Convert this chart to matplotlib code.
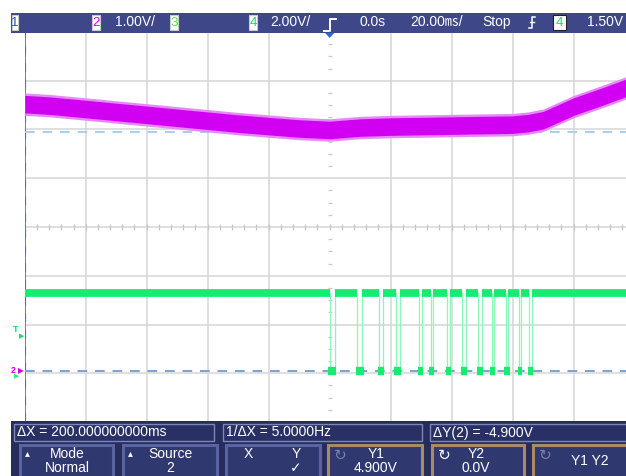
import matplotlib
matplotlib.use("Agg")
import matplotlib.pyplot as plt
from matplotlib.patches import Rectangle, Polygon

FONT = ["Liberation Sans", "DejaVu Sans", "Noto Sans CJK JP"]

# scope settings
TIME_DIV = 20.0      # ms/div
CH2_VDIV = 1.00      # V/div
CH4_VDIV = 2.00      # V/div
GND_DIV = -2.95      # ground reference of ch2 and ch4, in divisions from centre
TRIG_LEVEL = 1.50    # V, channel 4
CURSOR_X1 = -100.0   # ms
CURSOR_Y1 = 4.900    # V
CURSOR_Y2 = 0.0      # V

# channel 2 (magenta): centre of the noisy supply trace
ch2_t = [-100, -92, -80, -70, -60, -50, -40, -30, -20, -10, 0, 10,
         20, 30, 40, 50, 60, 65, 70, 80, 90, 97]
ch2_v = [5.47, 5.44, 5.37, 5.31, 5.25, 5.19, 5.13, 5.07, 5.02, 4.97, 4.94, 4.99,
         5.01, 5.02, 5.03, 5.04, 5.05, 5.08, 5.14, 5.42, 5.64, 5.80]
ch2_noise = 0.18     # half height of the noise band, V

# channel 4 (green): serial burst, low periods in ms
ch4_low_start = [0.0, 9.0, 16.2, 21.6, 29.3, 33.1, 38.6, 43.5, 48.7, 53.1, 57.7, 62.1, 65.3]
ch4_low_end = [1.7, 10.7, 17.5, 23.0, 30.3, 33.9, 39.4, 44.6, 49.8, 53.9, 58.6, 62.8, 66.4]
ch4_hi = 3.2
ch4_lo = 0.0

# screen geometry (pixels)
W, H = 626, 476
GX0, GDX = 24.7, 61.0
GY0, GDY = 32.0, 48.75

fig = plt.figure(figsize=(W / 100, H / 100), dpi=100)
fig.patch.set_facecolor("white")

t_min = -5 * TIME_DIV
t_max = t_min + (W - GX0) / GDX * TIME_DIV
ax = fig.add_axes([GX0 / W, 1 - (GY0 + 8 * GDY) / H, (W - GX0) / W, 8 * GDY / H])
ax.set_xlim(t_min, t_max)
ax.set_ylim(-4, 4)
ax.axis("off")

# graticule
grid_c = "#d6d6d6"
for k in range(-4, 6):
    if k != 0:
        ax.axvline(k * TIME_DIV, color=grid_c, lw=1.1, zorder=1)
for k in range(-3, 4):
    ax.axhline(k, color=grid_c, lw=1.1, zorder=1)
ax.axhline(-4, color="#c8c8c8", lw=1.2, zorder=1)
minor_t = [i * TIME_DIV / 5 for i in range(-25, 26)]
ax.vlines(minor_t, -0.06, 0.06, color="#c6c6c6", lw=0.9, zorder=1)
minor_y = [i / 4 for i in range(-16, 17) if i % 4]
ax.hlines(minor_y, -0.6, 0.6, color="#cacaca", lw=0.9, zorder=1)
ax.axvline(t_min, color="#6a6a6a", lw=1.2, zorder=2)

# channel scales
ax2 = ax.twinx()
ax2.set_ylim((-4 - GND_DIV) * CH2_VDIV, (4 - GND_DIV) * CH2_VDIV)
ax2.axis("off")
ax4 = ax.twinx()
ax4.set_ylim((-4 - GND_DIV) * CH4_VDIV, (4 - GND_DIV) * CH4_VDIV)
ax4.axis("off")

# cursors
ax2.axhline(CURSOR_Y1, color="#a9cdf3", lw=1.4, dashes=(5, 4), zorder=2)
ax2.axhline(CURSOR_Y2, color="#7aa2d8", lw=1.4, dashes=(5, 4), zorder=2)
ax.axvline(CURSOR_X1, color="#3d78d0", lw=1.6, dashes=(4, 3.5), zorder=3)

# channel 2 trace
lo = [v - ch2_noise for v in ch2_v]
hi = [v + ch2_noise for v in ch2_v]
lo2 = [v - ch2_noise - 0.05 for v in ch2_v]
hi2 = [v + ch2_noise + 0.05 for v in ch2_v]
ax2.fill_between(ch2_t, lo2, hi2, color="#e58af9", lw=0, zorder=3)
ax2.fill_between(ch2_t, lo, hi, color="#d200f2", lw=0, zorder=4)

# channel 4 trace
wt, wv = [t_min], [ch4_hi]
for a, b in zip(ch4_low_start, ch4_low_end):
    wt += [a, a, b, b]
    wv += [ch4_hi, ch4_lo, ch4_lo, ch4_hi]
wt.append(t_max)
wv.append(ch4_hi)
ax4.plot(wt, wv, color="#8af7bb", lw=0.9, zorder=4)
hi_start = [t_min] + ch4_low_end
hi_end = ch4_low_start + [t_max]
ax4.hlines([ch4_hi] * len(hi_start), hi_start, hi_end, color="#14ec72", lw=5.6, zorder=5)
ax4.hlines([ch4_lo] * len(ch4_low_start), [a - 0.4 for a in ch4_low_start],
           [b + 0.4 for b in ch4_low_end], color="#14ec72", lw=6.0, zorder=5)

# level markers left of the screen
ax4.annotate("T", xy=(0, TRIG_LEVEL), xycoords=("axes fraction", "data"),
             xytext=(-6.3, 3.5), textcoords="offset points", ha="center", va="center",
             color="#19d873", fontsize=6.5, fontweight="bold", family=FONT, annotation_clip=False)
ax4.annotate("\u25b6", xy=(0, TRIG_LEVEL), xycoords=("axes fraction", "data"),
             xytext=(-2.3, -1.2), textcoords="offset points", ha="center", va="center",
             color="#19d873", fontsize=5, annotation_clip=False)
ax4.annotate("\u25b6", xy=(0, ch4_lo), xycoords=("axes fraction", "data"),
             xytext=(-5.5, -3.5), textcoords="offset points", ha="center", va="center",
             color="#3de890", fontsize=5, annotation_clip=False)
ax2.annotate("2", xy=(0, CURSOR_Y2), xycoords=("axes fraction", "data"),
             xytext=(-8.2, 0.5), textcoords="offset points", ha="center", va="center",
             color="#d200f2", fontsize=6.5, fontweight="bold", family=FONT, annotation_clip=False)
ax2.annotate("\u25b6", xy=(0, CURSOR_Y2), xycoords=("axes fraction", "data"),
             xytext=(-2.6, 0.3), textcoords="offset points", ha="center", va="center",
             color="#d200f2", fontsize=5.5, annotation_clip=False)

# status bar and soft keys
ov = fig.add_axes([0, 0, 1, 1])
ov.set_xlim(0, W)
ov.set_ylim(H, 0)
ov.axis("off")

ov.add_patch(Rectangle((11, 13), W - 11, 20, fc="#3e4889", ec="none"))
tx = dict(color="white", fontsize=10, family=FONT, va="center")


def chan_box(x, w, label, color, edge="#c8c8c8"):
    ov.add_patch(Rectangle((x, 15), w, 15, fc="white", ec=edge, lw=0.8))
    ov.text(x + w / 2, 22.5, label, color=color, ha="center", va="center",
            fontsize=9.5, family=FONT)


chan_box(12, 6, "1", "#2c4fd8")
chan_box(92, 8, "2", "#d000f0")
ov.text(115, 22, "1.00V/", **tx)
chan_box(170, 8, "3", "#58e050")
chan_box(249, 8, "4", "#10e070")
ov.text(270, 22, "2.00V/", **tx)
ov.text(359, 22, "0.0s", **tx)
ov.text(410, 22, "20.00\u33b3/", **tx)
ov.text(482, 22, "Stop", **tx)
chan_box(553, 13, "4", "#10e070", edge="#202020")
ov.text(587, 22, "1.50V", **tx)

# trigger slope and trigger position icons
ov.plot([529, 532, 532, 535], [28, 28, 17, 17], color="white", lw=1.1)
ov.plot([530, 534], [22, 22], color="white", lw=1.0)
trig_x = GX0 + (0 - t_min) / TIME_DIV * GDX
ov.plot([trig_x - 6, trig_x, trig_x, trig_x + 6], [31, 31, 19, 19], color="white", lw=1.4)
ov.add_patch(Polygon([(trig_x - 4.5, 33), (trig_x + 4.5, 33), (trig_x, 38)],
                     closed=True, fc="#2a66d8", ec="none"))

# bottom panel
ov.add_patch(Rectangle((11, 421), W - 11, H - 421, fc="#262d5c", ec="none"))
for x0, x1 in [(14, 214), (223, 422), (430, W + 2)]:
    ov.add_patch(Rectangle((x0, 424), x1 - x0, 17, fc="#283066", ec="#7c86b8", lw=1))
ov.text(17, 432.5, "\u0394X = 200.000000000ms", **tx)
ov.text(226, 432.5, "1/\u0394X = 5.0000Hz", **tx)
ov.text(433, 432.5, "\u0394Y(2) = -4.900V", **tx)

keys = [(20, 113, "#5a64a0"), (123, 217, "#5a64a0"), (226, 320, "#5a64a0"),
        (328, 422, "#a88a68"), (432, 524, "#a88a68"), (533, W + 2, "#a88a68")]
for x0, x1, ec in keys:
    ov.add_patch(Rectangle((x0, 445), x1 - x0, 34, fc="#303870", ec=ec, lw=2.2))

ov.text(27, 453, "\u25b4", color="white", fontsize=7, ha="center", va="center")
ov.text(67, 454, "Mode", ha="center", **tx)
ov.text(67, 468.5, "Normal", ha="center", **tx)
ov.text(130, 453, "\u25b4", color="white", fontsize=7, ha="center", va="center")
ov.text(170, 454, "Source", ha="center", **tx)
ov.text(170, 468.5, "2", ha="center", **tx)
ov.text(248, 454, "X", ha="center", **tx)
ov.text(296, 454, "Y", ha="center", **tx)
ov.text(296, 468.5, "\u2713", ha="center", **tx)
ov.text(340, 455, "\u21bb", color="#7880a8", fontsize=11, ha="center", va="center")
ov.text(376, 454, "Y1", ha="center", **tx)
ov.text(376, 468.5, "4.900V", ha="center", **tx)
ov.text(444, 455, "\u21bb", color="white", fontsize=11, ha="center", va="center")
ov.text(476, 454, "Y2", ha="center", **tx)
ov.text(476, 468.5, "0.0V", ha="center", **tx)
ov.text(545, 455, "\u21bb", color="#7880a8", fontsize=11, ha="center", va="center")
ov.text(590, 461, "Y1 Y2", ha="center", **tx)

fig.savefig("out.png", dpi=100)
